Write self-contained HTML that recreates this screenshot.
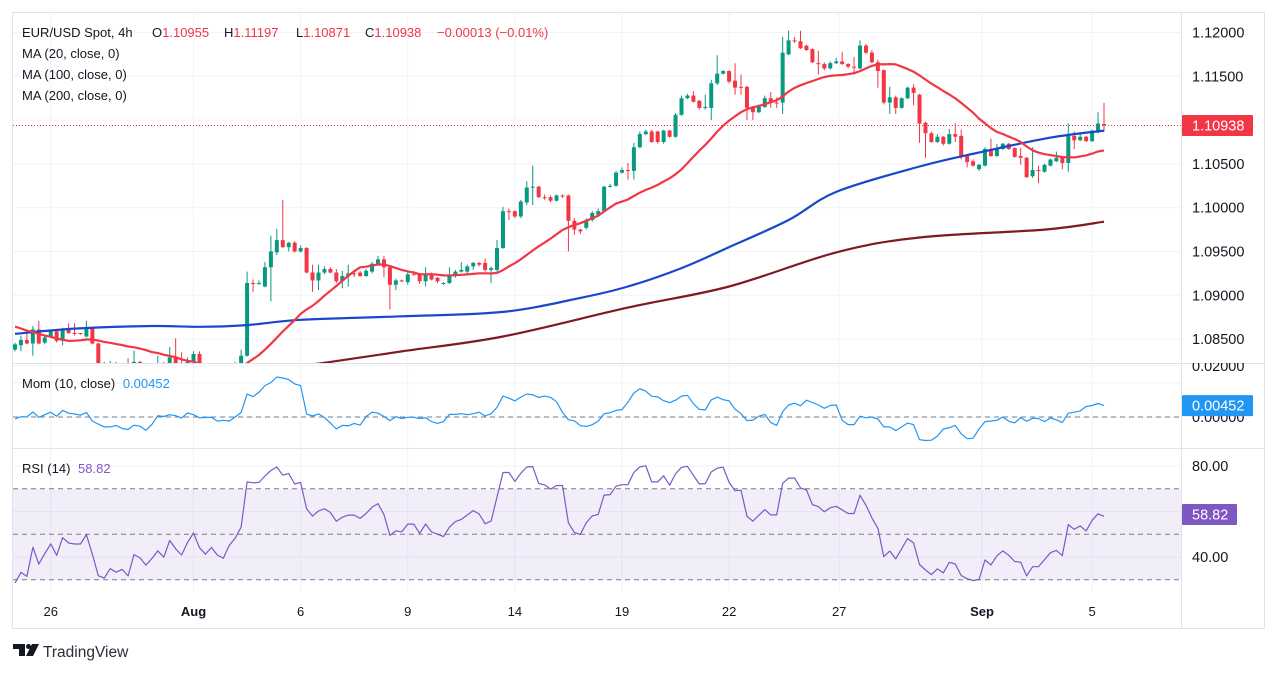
<!DOCTYPE html>
<html><head><meta charset="utf-8"><title>EUR/USD 4h</title>
<style>
html,body{margin:0;padding:0;background:#fff;}
svg{display:block;font-family:"Liberation Sans",Arial,sans-serif;}
</style></head>
<body>
<svg id="chart" width="1272" height="673" viewBox="0 0 1272 673" xmlns="http://www.w3.org/2000/svg">
<defs>
<clipPath id="cMain"><rect x="13" y="13" width="1168" height="350"/></clipPath>
<clipPath id="cMom"><rect x="13" y="363" width="1168" height="85"/></clipPath>
<clipPath id="cRsi"><rect x="13" y="448" width="1168" height="142"/></clipPath>
<clipPath id="cMomAx"><rect x="1181" y="363" width="86" height="85"/></clipPath>
</defs>
<rect x="12.5" y="12.5" width="1252" height="616" fill="#fff" stroke="#e0e3eb"/>
<g id="grid"></g>
<rect x="13" y="488.75" width="1168" height="91" fill="#7e57c2" fill-opacity="0.1"/>
<g id="rsiLines"></g>
<g id="mainG" clip-path="url(#cMain)"></g>
<g id="momG" clip-path="url(#cMom)"></g>
<g id="rsiG" clip-path="url(#cRsi)"></g>
<line x1="13" y1="363.5" x2="1265" y2="363.5" stroke="#e0e3eb"/>
<line x1="13" y1="448.5" x2="1265" y2="448.5" stroke="#e0e3eb"/>
<line x1="1181.5" y1="13" x2="1181.5" y2="628" stroke="#e0e3eb"/>
<g id="axes" font-size="14.5" fill="#131722"></g>
<g font-size="13" fill="#131722">
<text x="22" y="37">EUR/USD Spot, 4h</text>
<text x="152" y="37">O<tspan fill="#f23645">1.10955</tspan></text>
<text x="224" y="37">H<tspan fill="#f23645">1.11197</tspan></text>
<text x="296" y="37">L<tspan fill="#f23645">1.10871</tspan></text>
<text x="365" y="37">C<tspan fill="#f23645">1.10938</tspan></text>
<text x="437" y="37" fill="#f23645">−0.00013 (−0.01%)</text>
<text x="22" y="58">MA (20, close, 0)</text>
<text x="22" y="79">MA (100, close, 0)</text>
<text x="22" y="100">MA (200, close, 0)</text>
<text x="22" y="388">Mom (10, close) <tspan fill="#2196f3" dx="4">0.00452</tspan></text>
<text x="22" y="473">RSI (14) <tspan fill="#7e57c2" dx="4">58.82</tspan></text>
</g>
<g>
<path d="M13 644H25V656H19V649H13Z" fill="#131722"/>
<circle cx="28.5" cy="646.5" r="2.5" fill="#131722"/>
<path d="M32 644H39L33 656H26Z" fill="#131722"/>
<text x="43" y="657" font-size="15.5" fill="#2a2e39">TradingView</text>
</g>
</svg>
<script>
const opens=[1.0838,1.0843,1.0849,1.0845,1.0861,1.0846,1.0852,1.0859,1.0848,1.0862,
1.0857,1.0857,1.0853,1.0863,1.0845,1.0817,1.0813,1.0820,1.0813,1.0817,
1.0808,1.0824,1.0820,1.0811,1.0816,1.0822,1.0815,1.0829,1.0820,1.0813,
1.0824,1.0833,1.0817,1.0809,1.0815,1.0806,1.0802,1.0813,1.0820,1.0831,
1.0914,1.0913,1.0910,1.0932,1.0949,1.0963,1.0955,1.0960,1.0950,1.0954,
1.0926,1.0917,1.0926,1.0930,1.0926,1.0916,1.0922,1.0925,1.0926,1.0922,
1.0927,1.0936,1.0941,1.0932,1.0912,1.0917,1.0915,1.0924,1.0924,1.0916,
1.0925,1.0920,1.0913,1.0914,1.0922,1.0927,1.0927,1.0933,1.0937,1.0937,
1.0929,1.0929,1.0954,1.0996,1.0996,1.0990,1.1006,1.1023,1.1024,1.1012,
1.1012,1.1008,1.1014,1.1014,1.0985,1.0975,1.0977,1.0986,1.0992,1.0996,
1.1024,1.1025,1.1040,1.1043,1.1042,1.1069,1.1084,1.1087,1.1087,1.1075,
1.1088,1.1081,1.1106,1.1125,1.1128,1.1122,1.1114,1.1114,1.1142,1.1153,
1.1156,1.1145,1.1138,1.1138,1.1115,1.1109,1.1115,1.1125,1.1120,1.1120,
1.1175,1.1191,1.1190,1.1185,1.1181,1.1165,1.1164,1.1159,1.1165,1.1167,
1.1164,1.1161,1.1159,1.1185,1.1177,1.1166,1.1157,1.1120,1.1126,1.1114,
1.1125,1.1137,1.1129,1.1097,1.1085,1.1075,1.1081,1.1073,1.1084,1.1082,
1.1059,1.1053,1.1044,1.1048,1.1067,1.1059,1.1067,1.1073,1.1068,1.1059,
1.1057,1.1036,1.1043,1.1041,1.1048,1.1053,1.1057,1.1051,1.1082,1.1077,
1.1081,1.1076,1.1087,1.10955];
const highs=[1.0846,1.0854,1.0857,1.0865,1.0871,1.0853,1.0860,1.0861,1.0863,1.0868,
1.0868,1.0857,1.0871,1.0864,1.0846,1.0824,1.0825,1.0824,1.0821,1.0828,
1.0837,1.0825,1.0822,1.0820,1.0831,1.0824,1.0841,1.0851,1.0835,1.0829,
1.0836,1.0836,1.0820,1.0817,1.0817,1.0810,1.0815,1.0824,1.0838,1.0927,
1.0918,1.0917,1.0938,1.0968,1.0976,1.1009,1.0961,1.0962,1.0957,1.0955,
1.0935,1.0935,1.0933,1.0932,1.0930,1.0928,1.0935,1.0929,1.0928,1.0930,
1.0938,1.0945,1.0945,1.0933,1.0919,1.0918,1.0926,1.0928,1.0925,1.0932,
1.0926,1.0921,1.0915,1.0932,1.0929,1.0938,1.0935,1.0938,1.0938,1.0942,
1.0933,1.0963,1.1001,1.0999,1.0997,1.1009,1.1030,1.1048,1.1025,1.1015,
1.1014,1.1015,1.1015,1.1015,1.0988,1.0976,1.0988,1.0996,1.0999,1.1025,
1.1027,1.1042,1.1046,1.1051,1.1074,1.1087,1.1089,1.1089,1.1088,1.1089,
1.1089,1.1108,1.1128,1.1130,1.1133,1.1123,1.1129,1.1146,1.1174,1.1157,
1.1157,1.1165,1.1152,1.1139,1.1116,1.1118,1.1128,1.1132,1.1126,1.1195,
1.1202,1.1195,1.1202,1.1186,1.1182,1.1179,1.1166,1.1167,1.1171,1.1178,
1.1165,1.1172,1.1191,1.1187,1.1180,1.1169,1.1158,1.1138,1.1128,1.1126,
1.1138,1.1141,1.1130,1.1098,1.1087,1.1084,1.1082,1.1090,1.1096,1.1089,
1.1060,1.1055,1.1050,1.1069,1.1079,1.1073,1.1074,1.1074,1.1069,1.1068,
1.1058,1.1069,1.1048,1.1050,1.1056,1.1064,1.1058,1.1096,1.1087,1.1085,
1.1082,1.1089,1.1109,1.11197];
const lows=[1.0836,1.0836,1.0844,1.0831,1.0844,1.0844,1.0851,1.0846,1.0843,1.0856,
1.0854,1.0855,1.0852,1.0844,1.0815,1.0808,1.0810,1.0813,1.0808,1.0806,
1.0806,1.0817,1.0804,1.0807,1.0813,1.0811,1.0813,1.0817,1.0808,1.0811,
1.0822,1.0815,1.0804,1.0806,1.0800,1.0797,1.0799,1.0811,1.0817,1.0830,
1.0904,1.0912,1.0909,1.0893,1.0946,1.0954,1.0950,1.0949,1.0949,1.0925,
1.0904,1.0906,1.0924,1.0925,1.0914,1.0908,1.0910,1.0921,1.0921,1.0921,
1.0925,1.0934,1.0921,1.0884,1.0906,1.0915,1.0912,1.0923,1.0913,1.0910,
1.0917,1.0914,1.0912,1.0913,1.0920,1.0926,1.0925,1.0929,1.0933,1.0927,
1.0914,1.0927,1.0953,1.0986,1.0988,1.0988,1.1003,1.1003,1.1011,1.1009,
1.1006,1.1007,1.1011,1.0950,1.0969,1.0970,1.0975,1.0984,1.0991,1.0995,
1.1023,1.1024,1.1039,1.1032,1.1032,1.1068,1.1083,1.1074,1.1073,1.1073,
1.1080,1.1080,1.1105,1.1124,1.1120,1.1112,1.1112,1.1100,1.1140,1.1152,
1.1142,1.1129,1.1129,1.1100,1.1100,1.1108,1.1114,1.1114,1.1114,1.1107,
1.1174,1.1188,1.1181,1.1179,1.1165,1.1152,1.1157,1.1158,1.1164,1.1163,
1.1159,1.1152,1.1158,1.1175,1.1165,1.1137,1.1118,1.1107,1.1107,1.1113,
1.1124,1.1117,1.1074,1.1057,1.1074,1.1074,1.1071,1.1072,1.1075,1.1055,
1.1046,1.1047,1.1042,1.1047,1.1058,1.1058,1.1066,1.1066,1.1057,1.1049,
1.1034,1.1034,1.1028,1.1040,1.1047,1.1052,1.1044,1.1041,1.1067,1.1076,
1.1075,1.1075,1.1085,1.10871];
const closes=[1.0844,1.0849,1.0845,1.0861,1.0845,1.0852,1.0859,1.0848,1.0862,1.0857,
1.0856,1.0856,1.0863,1.0845,1.0817,1.0813,1.0820,1.0815,1.0817,1.0808,
1.0824,1.0820,1.0811,1.0816,1.0822,1.0815,1.0829,1.0820,1.0813,1.0824,
1.0833,1.0817,1.0809,1.0815,1.0806,1.0802,1.0813,1.0820,1.0831,1.0914,
1.0913,1.0914,1.0932,1.0950,1.0963,1.0955,1.0960,1.0950,1.0954,1.0926,
1.0917,1.0926,1.0930,1.0926,1.0916,1.0922,1.0925,1.0925,1.0922,1.0928,
1.0936,1.0941,1.0932,1.0912,1.0917,1.0916,1.0924,1.0924,1.0916,1.0925,
1.0918,1.0916,1.0914,1.0922,1.0927,1.0929,1.0933,1.0937,1.0935,1.0929,
1.0931,1.0954,1.0996,1.0996,1.0990,1.1007,1.1023,1.1024,1.1012,1.1011,
1.1008,1.1014,1.1014,1.0985,1.0975,1.0973,1.0986,1.0994,1.0996,1.1024,
1.1025,1.1040,1.1043,1.1043,1.1069,1.1084,1.1087,1.1075,1.1075,1.1088,
1.1081,1.1106,1.1125,1.1128,1.1121,1.1114,1.1115,1.1142,1.1153,1.1156,
1.1144,1.1137,1.1138,1.1114,1.1109,1.1117,1.1125,1.1120,1.1120,1.1177,
1.1191,1.1191,1.1182,1.1180,1.1166,1.1164,1.1159,1.1165,1.1167,1.1164,
1.1161,1.1161,1.1185,1.1177,1.1166,1.1156,1.1120,1.1126,1.1114,1.1125,
1.1137,1.1131,1.1096,1.1085,1.1075,1.1081,1.1073,1.1084,1.1081,1.1059,
1.1052,1.1048,1.1049,1.1067,1.1059,1.1068,1.1073,1.1067,1.1058,1.1057,
1.1035,1.1043,1.1043,1.1049,1.1055,1.1057,1.1051,1.1082,1.1077,1.1081,
1.1076,1.1088,1.1096,1.10938];
const priorCloses=[1.0893,1.0895,1.0890,1.0888,1.0892,1.0887,1.0889,1.0884,1.0886,1.0852,1.0848,1.0845,1.0841,1.0846,1.0843,1.0840,1.0845,1.0836,1.0842];
const ma100Idx=[0,10,23,31,39,48,65,82,95,103,112,120,130,138,152,162,174,183];
const ma100Val=[1.0856,1.0862,1.0865,1.0864,1.0866,1.0872,1.0876,1.0881,1.0897,1.0910,1.0931,1.0955,1.0986,1.1018,1.1047,1.1063,1.1080,1.1088];
const ma200Idx=[48,52,65,82,103,120,138,152,173,183];
const ma200Val=[1.0820,1.0823,1.0836,1.0853,1.0886,1.0910,1.0949,1.0966,1.0975,1.0984];
const priceTicks=[1.08,1.085,1.09,1.095,1.10,1.105,1.11,1.115,1.12];
const timeTickIdx=[6,30,48,66,84,102,120,138.5,162.5,181];
const timeTickLabels=["26","Aug","6","9","14","19","22","27","Sep","5"];
const timeTickBold=[false,true,false,false,false,false,false,false,true,false];
const rsiTicks=[80,40];
const momTicks=[0.02,0];

const NS="http://www.w3.org/2000/svg";
function mk(tag,attrs,parent){const e=document.createElementNS(NS,tag);for(const k in attrs)e.setAttribute(k,attrs[k]);parent.appendChild(e);return e;}
const N=closes.length;
const X0=15,X1=1104;
function xOf(i){return X0+i*(X1-X0)/(N-1);}
function yP(p){return 32.5+(1.12-p)*8760;}
function yM(m){return 417-m*2550;}
function yR(v){return 466+(80-v)*2.275;}
const fmt5=v=>v.toFixed(5);

const grid=document.getElementById('grid');
priceTicks.forEach(p=>{const l=mk('line',{x1:13,x2:1181,y1:yP(p),y2:yP(p),stroke:'#f0f3fa'},grid);

});
timeTickIdx.forEach(t=>{const l=mk('line',{x1:xOf(t),x2:xOf(t),y1:13,y2:592,stroke:'#f0f3fa'},grid);

});
[366,417].forEach(y=>{const l=mk('line',{x1:13,x2:1181,y1:y,y2:y,stroke:'#f0f3fa'},grid);

});
rsiTicks.concat([60]).forEach(v=>{const l=mk('line',{x1:13,x2:1181,y1:yR(v),y2:yR(v),stroke:'#f0f3fa'},grid);

});

const rl=document.getElementById('rsiLines');
[70,50,30].forEach(v=>{const l=mk('line',{x1:13,x2:1181,y1:yR(v),y2:yR(v),stroke:'#787b86','stroke-dasharray':'5 4','stroke-width':1},rl);

});
const momG=document.getElementById('momG');
const zl=mk('line',{x1:13,x2:1181,y1:yM(0),y2:yM(0),stroke:'#787b86','stroke-dasharray':'5 4'},momG);



const mainG=document.getElementById('mainG');
for(let i=0;i<N;i++){
  const up=closes[i]>opens[i];
  const col=up?'#089981':'#f23645';
  const x=xOf(i);
  const g=mk('g',{},mainG);
  
  
  mk('line',{x1:x,x2:x,y1:yP(highs[i]),y2:yP(lows[i]),stroke:col,'stroke-width':1},g);
  const t=Math.min(yP(opens[i]),yP(closes[i])),b=Math.max(yP(opens[i]),yP(closes[i]));
  mk('rect',{x:x-2,y:t,width:4,height:Math.max(1,b-t),fill:col},g);
}
const all=priorCloses.concat(closes);
const P=priorCloses.length;
let ma20=[];
for(let i=0;i<N;i++){let s=0;for(let k=0;k<20;k++)s+=all[P+i-k];ma20.push(s/20);}
function poly(xs,ys,col,w,name,parent){
  const pl=mk('polyline',{points:xs.map((x,k)=>x.toFixed(1)+','+ys[k].toFixed(1)).join(' '),fill:'none',stroke:col,'stroke-width':w,'stroke-linejoin':'round'},parent);
  
  
  return pl;}
function smooth(xs,ys,col,w,name,parent){
  let d='M'+xs[0].toFixed(1)+','+ys[0].toFixed(1);
  for(let k=0;k<xs.length-1;k++){
    const x0=xs[Math.max(k-1,0)],y0=ys[Math.max(k-1,0)],x1=xs[k],y1=ys[k],x2=xs[k+1],y2=ys[k+1],x3=xs[Math.min(k+2,xs.length-1)],y3=ys[Math.min(k+2,xs.length-1)];
    d+=' C'+(x1+(x2-x0)/6).toFixed(1)+','+(y1+(y2-y0)/6).toFixed(1)+' '+(x2-(x3-x1)/6).toFixed(1)+','+(y2-(y3-y1)/6).toFixed(1)+' '+x2.toFixed(1)+','+y2.toFixed(1);
  }
  const p=mk('path',{d:d,fill:'none',stroke:col,'stroke-width':w},parent);
  
  
  return p;}
smooth(ma200Idx.map(xOf),ma200Val.map(yP),'#801922',2.2,'ma200-line',mainG);
smooth(ma100Idx.map(xOf),ma100Val.map(yP),'#1848cc',2.2,'ma100-line',mainG);
poly(closes.map((c,i)=>xOf(i)),ma20.map(yP),'#f23645',2.2,'ma20-line',mainG);
const lastY=yP(closes[N-1]);
const pl=mk('line',{x1:13,x2:1181,y1:lastY,y2:lastY,stroke:'#f23645','stroke-dasharray':'1 2'},mainG);



let mom=[];for(let i=0;i<N;i++)mom.push(all[P+i]-all[P+i-10]);
poly(mom.map((m,i)=>xOf(i)),mom.map(yM),'#2196f3',1.2,'momentum-line',momG);
let ag=0,al=0;const rsi=[];
for(let k=1;k<all.length;k++){
  const d=all[k]-all[k-1],g=Math.max(d,0),l=Math.max(-d,0);
  if(k<=14){ag+=g/14;al+=l/14;}else{ag=(ag*13+g)/14;al=(al*13+l)/14;}
  if(k-P>=0){rsi.push(al===0?100:100-100/(1+ag/al));}
}
const rsiG=document.getElementById('rsiG');
poly(rsi.map((v,i)=>xOf(i)),rsi.map(yR),'#7e57c2',1.2,'rsi-line',rsiG);

const axes=document.getElementById('axes');
priceTicks.forEach(p=>{const y=yP(p);if(y>13&&y<360){const t=mk('text',{x:1192,y:y+5},axes);t.textContent=fmt5(p);

}});
const momAx=mk('g',{'clip-path':'url(#cMomAx)'},axes);


momTicks.forEach(m=>{const t=mk('text',{x:1192,y:yM(m)+5},momAx);t.textContent=fmt5(m);

});
rsiTicks.forEach(v=>{const t=mk('text',{x:1192,y:yR(v)+5},axes);t.textContent=v.toFixed(2);

});
timeTickIdx.forEach((ti,k)=>{const t=mk('text',{x:xOf(ti),y:616,'text-anchor':'middle','font-size':13,'font-weight':timeTickBold[k]?'bold':'normal'},axes);t.textContent=timeTickLabels[k];

});
function badge(y,w,col,txt,name){
  const g=mk('g',{},axes);
  
  
  mk('rect',{x:1182,y:y-10.5,width:w,height:21,fill:col,rx:1},g);
  const t=mk('text',{x:1192,y:y+5,fill:'#fff'},g);t.textContent=txt;}
badge(lastY,71,'#f23645','1.10938','last-price-badge');
badge(yM(mom[N-1]),71,'#2196f3','0.00452','mom-value-badge');
badge(514.5,55,'#7e57c2','58.82','rsi-value-badge');
</script>
</body></html>
